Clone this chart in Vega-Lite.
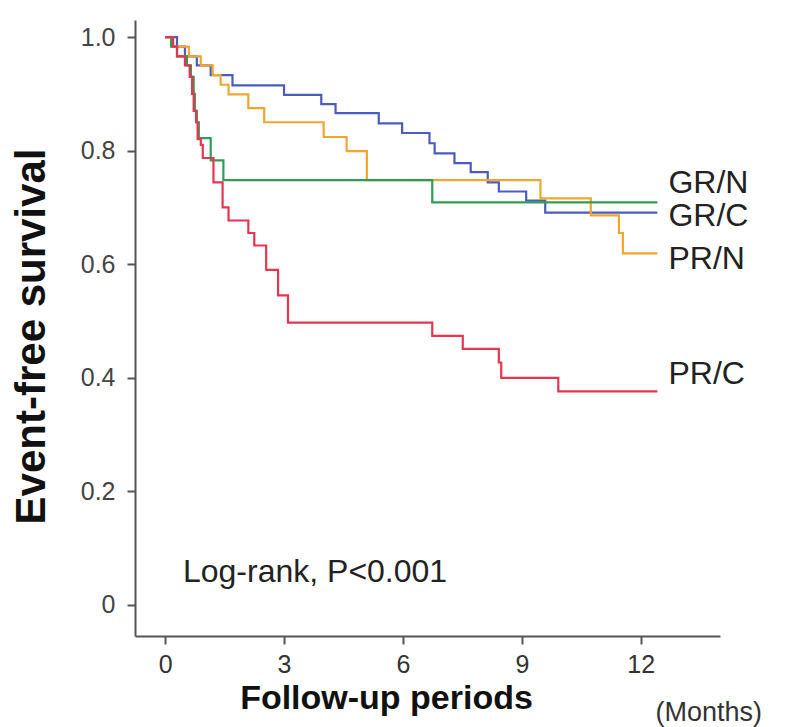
{
  "$schema": "https://vega.github.io/schema/vega-lite/v6.json",
  "width": 585,
  "height": 616,
  "autosize": "none",
  "padding": {"left": 135, "top": 20, "right": 69, "bottom": 91},
  "background": "white",
  "config": {"view": {"stroke": null}, "font": "Liberation Sans"},
  "datasets": {
    "curves": [
      {"group": "GR/C", "t": 0, "s": 1.0}, {"group": "GR/C", "t": 0.3, "s": 0.983}, {"group": "GR/C", "t": 0.5, "s": 0.966}, {"group": "GR/C", "t": 0.8, "s": 0.95}, {"group": "GR/C", "t": 1.15, "s": 0.933}, {"group": "GR/C", "t": 1.7, "s": 0.915}, {"group": "GR/C", "t": 3.0, "s": 0.898}, {"group": "GR/C", "t": 3.94, "s": 0.882}, {"group": "GR/C", "t": 4.3, "s": 0.866}, {"group": "GR/C", "t": 5.39, "s": 0.848}, {"group": "GR/C", "t": 5.98, "s": 0.831}, {"group": "GR/C", "t": 6.67, "s": 0.813}, {"group": "GR/C", "t": 6.8, "s": 0.795}, {"group": "GR/C", "t": 7.3, "s": 0.778}, {"group": "GR/C", "t": 7.71, "s": 0.762}, {"group": "GR/C", "t": 8.14, "s": 0.744}, {"group": "GR/C", "t": 8.42, "s": 0.728}, {"group": "GR/C", "t": 9.11, "s": 0.712}, {"group": "GR/C", "t": 9.59, "s": 0.691}, {"group": "GR/C", "t": 12.42, "s": 0.691},
      {"group": "PR/N", "t": 0, "s": 1.0}, {"group": "PR/N", "t": 0.2, "s": 0.983}, {"group": "PR/N", "t": 0.6, "s": 0.966}, {"group": "PR/N", "t": 0.9, "s": 0.95}, {"group": "PR/N", "t": 1.2, "s": 0.933}, {"group": "PR/N", "t": 1.4, "s": 0.916}, {"group": "PR/N", "t": 1.6, "s": 0.899}, {"group": "PR/N", "t": 2.1, "s": 0.875}, {"group": "PR/N", "t": 2.5, "s": 0.85}, {"group": "PR/N", "t": 4.0, "s": 0.824}, {"group": "PR/N", "t": 4.58, "s": 0.799}, {"group": "PR/N", "t": 5.09, "s": 0.748}, {"group": "PR/N", "t": 9.47, "s": 0.716}, {"group": "PR/N", "t": 10.74, "s": 0.686}, {"group": "PR/N", "t": 11.45, "s": 0.655}, {"group": "PR/N", "t": 11.55, "s": 0.619}, {"group": "PR/N", "t": 12.42, "s": 0.619},
      {"group": "GR/N", "t": 0, "s": 1.0}, {"group": "GR/N", "t": 0.15, "s": 0.983}, {"group": "GR/N", "t": 0.3, "s": 0.966}, {"group": "GR/N", "t": 0.55, "s": 0.95}, {"group": "GR/N", "t": 0.65, "s": 0.93}, {"group": "GR/N", "t": 0.72, "s": 0.9}, {"group": "GR/N", "t": 0.75, "s": 0.87}, {"group": "GR/N", "t": 0.8, "s": 0.85}, {"group": "GR/N", "t": 0.85, "s": 0.822}, {"group": "GR/N", "t": 1.15, "s": 0.783}, {"group": "GR/N", "t": 1.47, "s": 0.748}, {"group": "GR/N", "t": 6.74, "s": 0.709}, {"group": "GR/N", "t": 12.42, "s": 0.709},
      {"group": "PR/C", "t": 0, "s": 1.0}, {"group": "PR/C", "t": 0.2, "s": 0.983}, {"group": "PR/C", "t": 0.3, "s": 0.966}, {"group": "PR/C", "t": 0.5, "s": 0.95}, {"group": "PR/C", "t": 0.62, "s": 0.93}, {"group": "PR/C", "t": 0.68, "s": 0.9}, {"group": "PR/C", "t": 0.72, "s": 0.87}, {"group": "PR/C", "t": 0.78, "s": 0.85}, {"group": "PR/C", "t": 0.82, "s": 0.82}, {"group": "PR/C", "t": 0.9, "s": 0.81}, {"group": "PR/C", "t": 0.95, "s": 0.787}, {"group": "PR/C", "t": 1.22, "s": 0.744}, {"group": "PR/C", "t": 1.45, "s": 0.7}, {"group": "PR/C", "t": 1.6, "s": 0.677}, {"group": "PR/C", "t": 2.1, "s": 0.655}, {"group": "PR/C", "t": 2.25, "s": 0.633}, {"group": "PR/C", "t": 2.55, "s": 0.59}, {"group": "PR/C", "t": 2.85, "s": 0.545}, {"group": "PR/C", "t": 3.1, "s": 0.497}, {"group": "PR/C", "t": 6.74, "s": 0.474}, {"group": "PR/C", "t": 7.51, "s": 0.451}, {"group": "PR/C", "t": 8.42, "s": 0.427}, {"group": "PR/C", "t": 8.48, "s": 0.4}, {"group": "PR/C", "t": 9.92, "s": 0.376}, {"group": "PR/C", "t": 12.42, "s": 0.376}
    ],
    "labels": [
      {"text": "GR/N", "t": 12.7, "s": 0.743},
      {"text": "GR/C", "t": 12.7, "s": 0.685},
      {"text": "PR/N", "t": 12.7, "s": 0.609},
      {"text": "PR/C", "t": 12.7, "s": 0.407}
    ],
    "notes": [
      {"text": "Log-rank, P<0.001", "t": 0.45, "s": 0.058}
    ],
    "units": [
      {"text": "(Months)", "t": 12.37, "s": -0.19}
    ]
  },
  "layer": [
    {
      "data": {"name": "curves"},
      "mark": {"type": "line", "interpolate": "step-after", "strokeWidth": 2.2},
      "encoding": {
        "x": {
          "field": "t", "type": "quantitative",
          "scale": {"domain": [-0.76, 14.0], "nice": false, "zero": false},
          "axis": {
            "values": [0, 3, 6, 9, 12], "grid": false,
            "domainColor": "#555", "domainWidth": 2,
            "tickColor": "#555", "tickWidth": 2, "tickSize": 8,
            "labelFontSize": 25, "labelColor": "#333", "labelPadding": 8,
            "title": "Follow-up periods", "titleFontSize": 34, "titleFontWeight": "bold", "titleColor": "#111",
            "titleAlign": "center", "titleBaseline": "alphabetic", "titleX": 251, "titleY": 72
          }
        },
        "y": {
          "field": "s", "type": "quantitative",
          "scale": {"domain": [-0.0546, 1.03], "nice": false, "zero": false},
          "axis": {
            "values": [0, 0.2, 0.4, 0.6, 0.8, 1.0], "grid": false,
            "labelExpr": "datum.value == 0 ? '0' : format(datum.value, '.1f')",
            "domainColor": "#555", "domainWidth": 2,
            "tickColor": "#555", "tickWidth": 2, "tickSize": 8,
            "labelFontSize": 25, "labelColor": "#444", "labelPadding": 12,
            "title": "Event-free survival", "titleFontSize": 42, "titleFontWeight": "bold", "titleColor": "#111",
            "titleAlign": "center", "titleBaseline": "alphabetic", "titleX": -91, "titleY": 316, "titleAngle": -90
          }
        },
        "color": {
          "field": "group", "type": "nominal",
          "scale": {"domain": ["GR/N", "GR/C", "PR/N", "PR/C"], "range": ["#2e9e55", "#4a5cbf", "#f2a531", "#e63550"]},
          "legend": null
        },
        "detail": {"field": "group"}
      }
    },
    {
      "data": {"name": "labels"},
      "mark": {"type": "text", "align": "left", "baseline": "middle", "fontSize": 32, "color": "#222"},
      "encoding": {
        "x": {"field": "t", "type": "quantitative"},
        "y": {"field": "s", "type": "quantitative"},
        "text": {"field": "text"}
      }
    },
    {
      "data": {"name": "notes"},
      "mark": {"type": "text", "align": "left", "baseline": "middle", "fontSize": 32, "color": "#222"},
      "encoding": {
        "x": {"field": "t", "type": "quantitative"},
        "y": {"field": "s", "type": "quantitative"},
        "text": {"field": "text"}
      }
    },
    {
      "data": {"name": "units"},
      "mark": {"type": "text", "align": "left", "baseline": "middle", "fontSize": 27, "color": "#333"},
      "encoding": {
        "x": {"field": "t", "type": "quantitative"},
        "y": {"field": "s", "type": "quantitative"},
        "text": {"field": "text"}
      }
    }
  ]
}
